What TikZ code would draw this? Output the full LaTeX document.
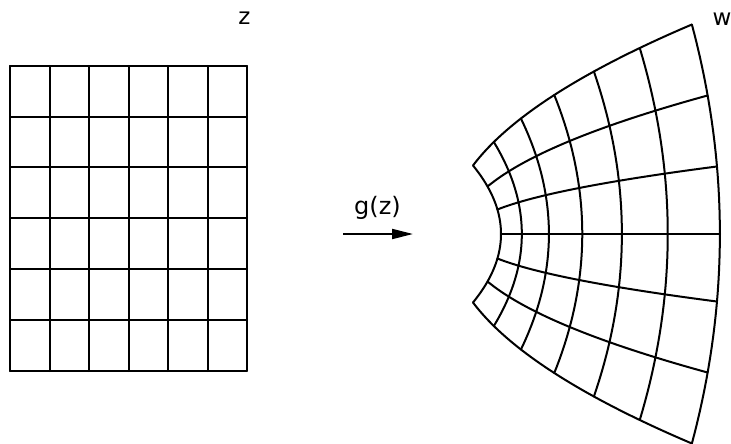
\documentclass[tikz,border=0pt]{standalone}
\usepackage{fontspec}
\setmainfont{DejaVu Sans}
\usetikzlibrary{arrows.meta}
\begin{document}
\begin{tikzpicture}[x=1pt,y=-1pt,
  gridline/.style={line width=2pt, black, line cap=round, line join=miter},
  lbl/.style={inner sep=0pt, font=\fontsize{23}{26}\selectfont},
  maplbl/.style={inner sep=0pt, font=\fontsize{24}{27}\selectfont},
  maparrow/.style={line width=2pt, -{Triangle[length=21pt,width=10pt]}}]
\useasboundingbox (0,0) rectangle (731,444);
% left grid
\foreach \xx in {10,50,89,129,168,208,247}{
  \draw[gridline] (\xx,66) -- (\xx,371);
}
\foreach \yy in {66,117,167,218,269,320,371}{
  \draw[gridline] (10,\yy) -- (247,\yy);
}
% right image grid: arcs (images of vertical lines)
\foreach \i in {0,...,6}{
  \draw[gridline] plot[domain=-1:1, samples=40, variable=\s]
    ({501+17.7*\i+3.13*\i*\i-28*\s*\s},{234-\s*(68.5+23.5*\i)});
}
% rays (images of horizontal lines)
\foreach \a/\b in {68.5/23.5, 47.5/15.17, 24.5/7.17}{
  \draw[gridline] plot[domain=0:6, samples=50, variable=\t]
    ({501+17.7*\t+3.13*\t*\t-28*((\a+\b*\t)/(68.5+23.5*\t))^2},{234-(\a+\b*\t)});
  \draw[gridline] plot[domain=0:6, samples=50, variable=\t]
    ({501+17.7*\t+3.13*\t*\t-28*((\a+\b*\t)/(68.5+23.5*\t))^2},{234+(\a+\b*\t)});
}
\draw[gridline] (501,234) -- (720,234);
% labels and arrow
\node[lbl] (zlab) at (244.5,18.5) {z};
\node[lbl] (wlab) at (722,19) {w};
\node[maplbl] (glab) at (377.5,207.5) {g(z)};
\coordinate (arrA) at (343,234);
\coordinate (arrB) at (413,234);
\draw[maparrow] (arrA) -- (arrB);
\end{tikzpicture}
\end{document}
